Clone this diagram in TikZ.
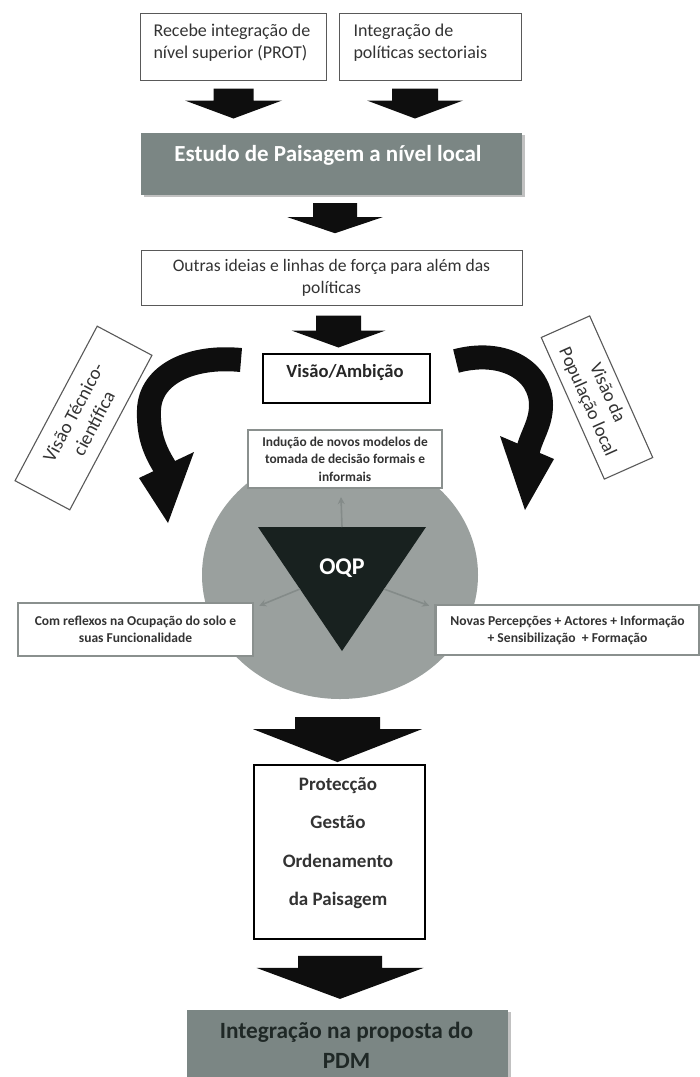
\documentclass[tikz,border=0pt]{standalone}
\usepackage{fontspec}
\setmainfont{Carlito}
\usetikzlibrary{arrows.meta,calc,shadows}
\definecolor{boxgray}{HTML}{7B8684}
\definecolor{circgray}{HTML}{9AA09E}
\definecolor{tridark}{HTML}{18211F}
\definecolor{blk}{HTML}{0E0E0E}
\definecolor{framegray}{HTML}{8A908E}
\definecolor{txtdark}{HTML}{333333}
\definecolor{pdmtxt}{HTML}{1F2826}
\definecolor{thinarr}{HTML}{848B89}
\tikzset{
  plainbox/.style={draw=black!65, line width=1pt, fill=white, inner sep=0pt},
  blackbox/.style={draw=black, line width=1.8pt, fill=white, inner sep=0pt},
  framebox/.style={draw=framegray, line width=2.6pt, fill=white, inner sep=0pt},
  graybox/.style={fill=boxgray, inner sep=0pt, drop shadow={shadow xshift=2.5pt, shadow yshift=-2pt, opacity=0.35, fill=black!70}},
  curvy/.style={draw=blk, line width=24pt},
  thinarrow/.style={draw=thinarr, line width=1.6pt, -{Stealth[length=7pt,width=7pt]}},
  pics/blkarr/.style n args={4}{code={
    \fill[blk] (-#1,0) -- (#1,0) -- (#1,#2) -- (#3,#2) -- (0,#4) -- (-#3,#2) -- (-#1,#2) -- cycle;}},
}
\begin{document}
\begin{tikzpicture}[x=1pt,y=-1pt]
\useasboundingbox (0,0) rectangle (700,1077);

% ---- top boxes
\node[plainbox, minimum width=186pt, minimum height=67pt] (b1) at (233,46.5) {};
\node[anchor=west, align=left, text=txtdark, font=\fontsize{18}{21.5}\selectfont] (b1t) at (150,42.5) {Recebe integração de\\nível superior (PROT)};
\node[plainbox, minimum width=182pt, minimum height=67pt] (b2) at (430,46.5) {};
\node[anchor=west, align=left, text=txtdark, font=\fontsize{18}{21.5}\selectfont] (b2t) at (350,42.5) {Integração de\\políticas sectoriais};

\pic at ($(b1.south)+(0.5,8)$) {blkarr={20}{12}{48.5}{30}};
\pic at ($(b2.south)+(-15,8)$) {blkarr={23}{12}{48}{30}};

% ---- estudo
\node[graybox, minimum width=381pt, minimum height=62pt] (est) at (331.5,164) {};
\node[text=white, font=\bfseries\fontsize{23}{27}\selectfont] (estt) at (328,155) {Estudo de Paisagem a nível local};

\pic at ($(est.south)+(3.5,8)$) {blkarr={22}{14}{47.5}{30}};

% ---- outras
\node[plainbox, minimum width=381pt, minimum height=55pt, align=center, text=txtdark, font=\fontsize{17.6}{22}\selectfont] (out) at (331.5,277.5) {Outras ideias e linhas de força para além das\\políticas};

\pic at ($(out.south)+(7,10)$) {blkarr={22.5}{15}{47}{32}};

% ---- visao/ambicao
\node[blackbox, minimum width=167pt, minimum height=49pt] (vis) at (346.5,378.5) {};
\node[text=black!85, font=\bfseries\fontsize{18.6}{22}\selectfont] (vist) at (345,373) {Visão/Ambição};

% ---- rotated side boxes
\node[plainbox, line width=1.1pt, minimum width=175pt, minimum height=62pt, rotate=62, align=center, text=txtdark, font=\fontsize{19}{23}\selectfont] (ltec) at (83.5,418) {Visão Técnico-\\científica};
\node[plainbox, line width=1.1pt, minimum width=155pt, minimum height=53pt, rotate=-66, align=center, text=txtdark, font=\fontsize{18.5}{22}\selectfont] (rpop) at (597,397.5) {Visão da\\População local};

% ---- curved arrows
\draw[curvy] (241,360) .. controls (190,355) and (150,375) .. (149,410) .. controls (148,437) and (156,453) .. (166,469);
\fill[blk] (194,452) -- (168,523) -- (139,478) -- cycle;
\draw[curvy] (456,361) .. controls (505,348) and (541,372) .. (541,405) .. controls (541,425) and (530,437) .. (527,455);
\fill[blk] (500,436) -- (525,510) -- (554,459) -- cycle;

% ---- circle and triangle
\fill[circgray] (340,575) ellipse [x radius=138, y radius=124];
\coordinate (t1) at (258,527);
\coordinate (t2) at (426,527);
\coordinate (t3) at (342,651);
\fill[tridark] (t1) -- (t2) -- (t3) -- cycle;
\node[text=white, font=\bfseries\fontsize{24}{28}\selectfont] (oqp) at (342,568) {OQP};

% ---- boxes around triangle
\node[framebox, line width=2.2pt, minimum width=194pt, minimum height=58pt, align=center, text=txtdark, font=\bfseries\fontsize{13.4}{17.5}\selectfont] (ind) at (345,459) {Indução de novos modelos de\\tomada de decisão formais e\\informais};
\node[framebox, minimum width=235pt, minimum height=53pt, align=center, text=txtdark, font=\bfseries\fontsize{13.5}{17}\selectfont] (com) at (135.5,629.5) {Com reflexos na Ocupação do solo e\\suas Funcionalidade};
\node[framebox, minimum width=264pt, minimum height=50pt, align=center, text=txtdark, font=\bfseries\fontsize{13.6}{17}\selectfont] (nov) at (567.5,630) {Novas Percepções + Actores + Informação\\+ Sensibilização \ + Formação};

\draw[thinarrow] ($(t1)!0.5!(t2)$) -- ($(ind.south)+(-4,8)$);
\draw[thinarrow] ($(t1)!0.5!(t3)$) -- ($(com.north east)+(5,4)$);
\draw[thinarrow] ($(t2)!0.5!(t3)$) -- ($(nov.north west)+(-5,2)$);

% ---- proteccao
\node[blackbox, minimum width=171pt, minimum height=174pt] (prot) at (339.5,852) {};
\node[align=center, text=txtdark, font=\bfseries\fontsize{19}{38.3}\selectfont] (prott) at (338,843) {Protecção\\Gestão\\Ordenamento\\da Paisagem};

\pic at ($(prot.north)+(-2,-47)$) {blkarr={42.5}{12}{84.5}{45}};
\pic at ($(prot.south)+(0.5,16)$) {blkarr={42}{12}{83.5}{43}};

% ---- PDM
\node[graybox, minimum width=321pt, minimum height=75pt] (pdm) at (347.5,1047.5) {};
\node[align=center, text=pdmtxt, font=\bfseries\fontsize{23.3}{30}\selectfont] (pdmt) at (346.5,1045) {Integração na proposta do\\PDM};
\end{tikzpicture}
\end{document}
